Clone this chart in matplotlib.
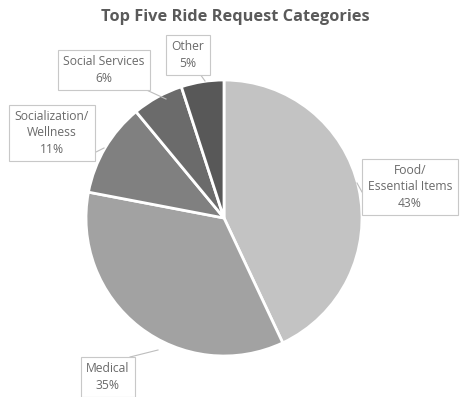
import matplotlib.pyplot as plt

plt.rcParams['font.family'] = 'Open Sans'

categories = ['Food/\nEssential Items', 'Medical', 'Socialization/\nWellness', 'Social Services', 'Other']
shares = [43, 35, 11, 6, 5]
colors = ['#c3c3c3', '#a2a2a2', '#808080', '#6b6b6b', '#585858']

# label box centres and leader line ends (pixel coords, y from top)
label_pos = [(410, 187), (108, 377), (52, 133), (104, 70), (188, 55)]
leader = [((362, 192), (357, 183)), ((130, 357), (158, 350)), ((96, 152), (104, 148)),
          ((140, 87), (166, 99)), ((200, 74), (205, 81))]

W, H = 463, 397
fig = plt.figure(figsize=(W / 100, H / 100), dpi=100)
ax = fig.add_axes([0, 0, 1, 1])

ax.pie(shares, colors=colors, startangle=90, counterclock=False,
       center=(224, H - 218), radius=138,
       wedgeprops=dict(edgecolor='white', linewidth=2))

# pie() resets the limits, so set them afterwards
ax.set_xlim(0, W)
ax.set_ylim(0, H)
ax.set_aspect('equal')
ax.axis('off')

for cat, val, (x, y), (p0, p1) in zip(categories, shares, label_pos, leader):
    ax.plot([p0[0], p1[0]], [H - p0[1], H - p1[1]], color='#bdbdbd', lw=0.8)
    ax.text(x, H - y, f'{cat}\n{val}%', ha='center', va='center', fontsize=8.7,
            color='#6a6a6a', linespacing=1.35,
            bbox=dict(boxstyle='square,pad=0.45', fc='white', ec='#c8c8c8', lw=0.8))

ax.text(W / 2 + 4, H - 17, 'Top Five Ride Request Categories', ha='center', va='center',
        fontsize=11.8, fontweight='bold', color='#5a5a5a')

fig.savefig('out.png', dpi=100)
